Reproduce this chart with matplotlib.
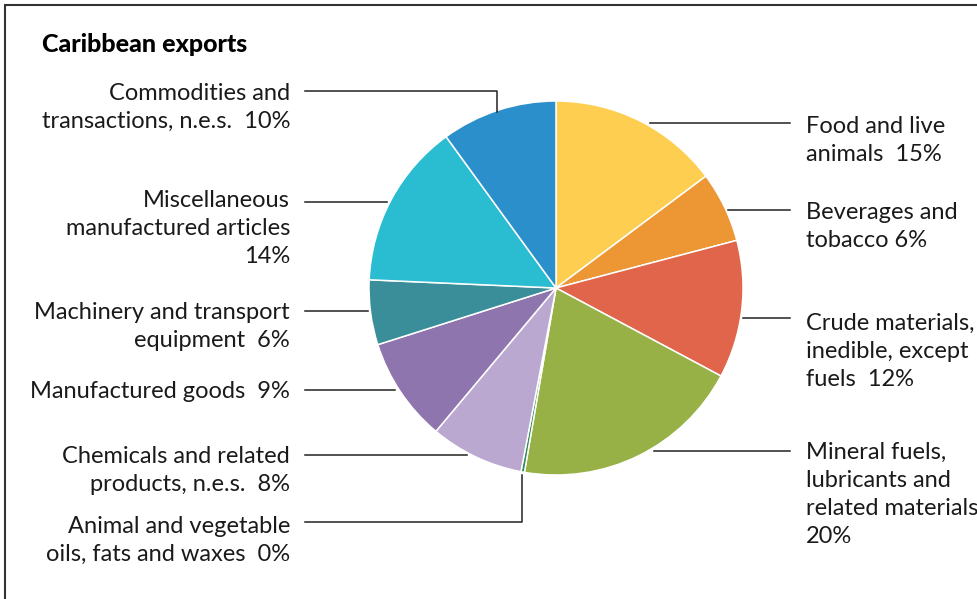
import matplotlib.pyplot as plt

# export shares by SITC section, clockwise from 12 o'clock
sections = [
    'Food and live\nanimals',
    'Beverages and\ntobacco',
    'Crude materials,\ninedible, except\nfuels',
    'Mineral fuels,\nlubricants and\nrelated materials\n',
    'Animal and vegetable\noils, fats and waxes',
    'Chemicals and related\nproducts, n.e.s.',
    'Manufactured goods',
    'Machinery and transport\nequipment',
    'Miscellaneous\nmanufactured articles\n',
    'Commodities and\ntransactions, n.e.s.',
]
shares = [14.8, 6.1, 11.9, 19.9, 0.3, 8.1, 9.0, 5.6, 14.3, 10.0]
colors = ['#fdce4f', '#ec9733', '#e0654a', '#97b147', '#2e8b57',
          '#baa8d0', '#8e75ae', '#3a8e99', '#2abdd2', '#2b8fcb']

W, H = 977, 599
plt.rcParams['font.family'] = ['Lato', 'DejaVu Sans']

fig = plt.figure(figsize=(W / 100, H / 100), dpi=100)
ax = fig.add_axes([0, 0, 1, 1])

def fy(y):
    return H - y

ax.pie(shares, colors=colors, startangle=90, counterclock=False,
       center=(556, fy(288)), radius=187,
       wedgeprops=dict(edgecolor='white', linewidth=1.1))
ax.set_xlim(0, W)
ax.set_ylim(0, H)
ax.set_aspect('auto')
ax.axis('off')

# frame (cropped at right and bottom)
ax.plot([5, 5, W], [0, fy(5), fy(5)], color='#333333', lw=1.5, solid_joinstyle='miter')

ax.text(42, fy(45), 'Caribbean exports', fontsize=18, fontweight='black',
        va='center', ha='left')

# label anchor: x, y of first line, side, leader path
layout = [
    (806, 125, 'left', [(650, 123), (790, 123)]),
    (806, 211, 'left', [(728, 210), (790, 210)]),
    (806, 322, 'left', [(743, 318), (790, 318)]),
    (806, 451, 'left', [(654, 451), (790, 451)]),
    (290, 525, 'right', [(305, 522), (522, 522), (522, 475)]),
    (290, 455, 'right', [(305, 455), (467, 455)]),
    (290, 391, 'right', [(305, 390), (395, 390)]),
    (290, 311, 'right', [(305, 311), (368, 311)]),
    (290, 199, 'right', [(305, 202), (387, 202)]),
    (290, 92, 'right', [(305, 91), (497, 91), (497, 112)]),
]

line_h = 28.5
for name, val, (x, y, ha, path) in zip(sections, shares, layout):
    sep = '' if name.endswith('\n') else '  '
    if name.startswith('Beverages'):
        sep = ' '
    label = f'{name}{sep}{round(val)}%'
    n = label.count('\n') + 1
    ax.text(x, fy(y + 1 + (n - 1) * line_h / 2), label, ha=ha, va='center',
            multialignment=ha, fontsize=17, color='#1a1a1a', linespacing=1.41)
    xs, ys = zip(*path)
    ax.plot(xs, [fy(v) for v in ys], color='#222222', lw=1.1)

fig.savefig('out.png', dpi=100)
